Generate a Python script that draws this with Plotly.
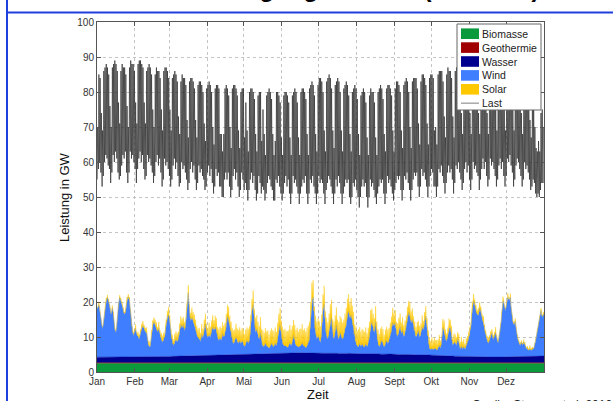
import plotly.graph_objects as go

# ---------------- data ----------------
month_labels = ["Jan", "Feb", "Mar", "Apr", "Mai", "Jun", "Jul", "Aug", "Sept", "Okt", "Nov", "Dez"]
month_start_day = [0, 31, 59, 90, 120, 151, 181, 212, 243, 273, 304, 334]

# daily peak / trough of the load (GW), Jan 1 .. Dec 31
load_max = [
    70, 85, 84, 74, 69,
    86, 87, 88, 87, 85, 76, 70,
    87, 88, 89, 88, 86, 77, 71,
    86, 88, 87, 87, 85, 76, 70,
    87, 89, 88, 88, 86, 77, 71,
    88, 89, 89, 88, 87, 77, 71,
    86, 87, 88, 87, 85, 75, 70,
    85, 87, 86, 86, 84, 75, 69,
    86, 87, 87, 86, 84, 75, 69,
    84, 85, 86, 85, 83, 73, 68,
    83, 85, 84, 84, 82, 72, 67,
    83, 84, 84, 83, 81, 72, 67,
    82, 83, 83, 82, 80, 71, 66,
    81, 82, 83, 82, 80, 70, 65,
    81, 82, 82, 81, 68, 68, 63,
    68, 81, 82, 81, 79, 70, 64,
    81, 82, 82, 81, 79, 69, 64,
    80, 81, 81, 67, 77, 69, 63,
    80, 81, 81, 80, 78, 68, 63,
    79, 80, 80, 66, 75, 68, 62,
    79, 80, 81, 80, 78, 68, 62,
    66, 80, 80, 79, 77, 67, 62,
    79, 80, 80, 79, 77, 67, 62,
    79, 80, 81, 80, 77, 67, 62,
    80, 81, 81, 80, 78, 68, 62,
    81, 82, 83, 82, 79, 68, 63,
    82, 84, 84, 83, 80, 69, 63,
    83, 84, 85, 84, 81, 69, 64,
    82, 83, 84, 83, 80, 69, 63,
    81, 82, 83, 82, 79, 68, 63,
    80, 81, 82, 81, 78, 68, 62,
    79, 80, 81, 80, 77, 67, 62,
    79, 81, 80, 80, 77, 67, 62,
    80, 81, 82, 81, 78, 68, 63,
    81, 82, 82, 81, 79, 69, 63,
    81, 83, 83, 82, 80, 69, 64,
    82, 83, 84, 83, 80, 70, 64,
    83, 84, 84, 84, 81, 71, 65,
    83, 85, 85, 84, 82, 71, 65,
    84, 85, 85, 84, 69, 70, 65,
    85, 86, 86, 86, 83, 73, 67,
    85, 87, 86, 86, 84, 73, 67,
    86, 87, 88, 87, 84, 74, 68,
    85, 86, 87, 86, 84, 74, 68,
    86, 87, 87, 86, 84, 74, 68,
    85, 86, 87, 86, 84, 74, 68,
    86, 87, 88, 87, 85, 75, 69,
    85, 86, 87, 86, 84, 75, 69,
    86, 87, 87, 87, 85, 75, 69,
    85, 86, 86, 86, 84, 74, 68,
    84, 85, 85, 84, 82, 72, 67,
    80, 78, 70, 64, 63, 66, 63,
    74, 75, 70,
]
load_min = [
    55, 58, 60, 57, 53,
    56, 60, 62, 61, 59, 58, 54,
    57, 62, 60, 63, 61, 57, 55,
    56, 59, 62, 61, 63, 57, 54,
    57, 63, 61, 62, 60, 58, 54,
    58, 61, 63, 60, 62, 58, 55,
    56, 62, 60, 61, 59, 57, 54,
    56, 60, 62, 59, 61, 57, 53,
    55, 61, 59, 60, 58, 56, 53,
    55, 59, 61, 58, 60, 56, 53,
    54, 60, 58, 59, 57, 55, 52,
    54, 58, 60, 57, 59, 55, 52,
    54, 59, 57, 58, 56, 55, 52,
    53, 57, 59, 56, 58, 54, 51,
    53, 58, 56, 57, 53, 53, 50,
    50, 55, 57, 55, 57, 53, 50,
    52, 56, 58, 55, 57, 53, 50,
    52, 57, 55, 52, 54, 52, 49,
    52, 55, 57, 54, 56, 52, 49,
    51, 56, 54, 51, 53, 52, 49,
    51, 54, 56, 55, 53, 52, 49,
    49, 55, 54, 56, 53, 51, 49,
    51, 54, 56, 53, 55, 51, 48,
    51, 56, 54, 55, 53, 51, 48,
    51, 53, 55, 54, 56, 51, 48,
    51, 55, 54, 56, 53, 51, 48,
    51, 56, 54, 55, 54, 51, 48,
    52, 54, 56, 55, 53, 51, 48,
    51, 55, 53, 56, 54, 51, 48,
    51, 53, 55, 54, 55, 50, 48,
    50, 54, 53, 55, 52, 50, 47,
    50, 53, 55, 53, 54, 50, 47,
    50, 55, 53, 54, 52, 50, 48,
    51, 53, 55, 54, 55, 51, 48,
    51, 56, 54, 55, 53, 51, 49,
    52, 54, 56, 55, 56, 52, 49,
    52, 56, 55, 57, 54, 52, 49,
    52, 55, 57, 56, 57, 53, 50,
    53, 58, 56, 57, 55, 53, 50,
    53, 56, 58, 57, 53, 53, 50,
    53, 58, 57, 59, 56, 54, 51,
    54, 57, 59, 57, 58, 55, 51,
    54, 59, 58, 60, 57, 55, 52,
    54, 58, 60, 57, 59, 55, 52,
    55, 60, 58, 59, 57, 56, 52,
    55, 58, 61, 58, 60, 56, 53,
    55, 61, 59, 60, 58, 56, 53,
    55, 59, 61, 58, 60, 56, 53,
    56, 61, 60, 62, 59, 57, 53,
    55, 59, 61, 60, 58, 56, 53,
    55, 60, 58, 59, 57, 55, 52,
    53, 55, 54, 51, 50, 51, 50,
    52, 54, 54,
]

# daily wind feed-in (GW)
wind = [
    14, 15, 13, 10, 8,
    10, 13, 16, 17, 16, 14, 12,
    14, 12, 8, 7, 10, 15, 17,
    16, 15, 13, 12, 13, 16, 17,
    16, 12, 8, 6, 7, 8, 6,
    6, 5, 7, 8, 9, 8, 7,
    7, 4, 3, 3, 6, 9, 10,
    9, 8, 7, 8, 6, 5, 4,
    5, 6, 9, 11, 12, 10, 6,
    4, 3, 4, 5, 4, 5, 7,
    9, 8, 9, 7, 9, 13, 18,
    12, 10, 11, 10, 9, 8, 6,
    5, 5, 4, 6, 5, 7, 9,
    6, 5, 6, 5, 7, 8, 7,
    8, 7, 5, 4, 5, 4, 6,
    5, 6, 8, 11, 10, 8, 6,
    4, 3, 4, 5, 4, 3, 4,
    3, 4, 3, 2, 3, 4, 3,
    4, 7, 12, 14, 9, 6, 7,
    5, 4, 6, 3, 2, 2, 3,
    2, 2, 1.5, 2, 3, 2, 2,
    3, 2, 4, 7, 8, 5, 3,
    2, 2, 2, 1.5, 2, 3, 2,
    3, 5, 3, 2, 2, 1.5, 2,
    2, 3, 2, 2, 1.5, 2, 3,
    4, 10, 15, 16, 8, 6, 4,
    5, 4, 3, 6, 12, 14, 7,
    5, 4, 6, 9, 10, 5, 4,
    6, 8, 5, 4, 6, 5, 4,
    5, 7, 8, 11, 12, 10, 11,
    9, 7, 4, 3, 2, 2, 3,
    2, 3, 2, 2, 3, 2, 3,
    5, 8, 9, 7, 6, 9, 5,
    3, 2, 3, 4, 3, 2, 3,
    4, 3, 4, 5, 7, 9, 8,
    9, 6, 5, 7, 8, 6, 7,
    5, 6, 8, 10, 12, 11, 9,
    10, 8, 6, 5, 6, 7, 5,
    6, 8, 7, 9, 11, 7, 4,
    2, 1.5, 2, 1.5, 2, 2, 1.5,
    2, 3, 2, 4, 8, 7, 5,
    4, 6, 8, 8, 6, 3, 4,
    4, 3, 5, 4, 2, 3, 2,
    3, 2, 3, 4, 5, 7, 9,
    14, 16, 15, 13, 12, 12, 14,
    13, 11, 10, 8, 6, 5, 4,
    5, 6, 7, 5, 6, 7, 5,
    4, 6, 8, 12, 16, 15, 13,
    15, 17, 16, 17, 12, 10, 9,
    10, 7, 5, 4, 3, 4, 3,
    4, 3, 2, 2, 1.5, 2, 1.5,
    2, 2, 3, 5, 7, 9, 11,
    13, 11, 12,
]

# daily midday solar peak (GW)
solar = [
    0.5, 0.8, 0.6, 0.4, 0.7,
    0.6, 0.5, 0.9, 0.7, 0.4, 0.8, 0.6,
    0.7, 0.9, 0.5, 0.8, 1.0, 0.6, 0.7,
    0.9, 0.6, 1.1, 0.8, 0.7, 1.0, 0.8,
    1.0, 1.2, 0.8, 1.1, 0.9, 1.3, 1.0,
    1.2, 1.4, 1.0, 1.5, 1.3, 1.1, 1.4,
    1.5, 1.2, 1.6, 1.3, 1.7, 1.4, 1.2,
    1.6, 1.8, 1.4, 1.9, 1.5, 1.7, 2.0,
    1.8, 2.1, 1.6, 2.0, 2.2, 1.7, 1.9,
    2.2, 1.9, 2.4, 2.1, 2.5, 2.0, 2.3,
    2.4, 2.6, 2.1, 2.7, 2.3, 2.5, 2.2,
    2.6, 2.3, 2.8, 2.5, 2.9, 2.4, 2.7,
    2.8, 3.0, 2.5, 3.1, 2.7, 3.2, 2.9,
    3.0, 2.7, 3.3, 3.1, 2.8, 3.4, 3.0,
    3.2, 3.5, 2.9, 3.4, 3.1, 3.6, 3.3,
    3.4, 3.1, 3.7, 3.3, 3.8, 3.2, 3.5,
    3.6, 3.9, 3.3, 3.8, 3.5, 4.0, 3.7,
    3.8, 3.5, 4.1, 3.7, 4.0, 3.6, 4.2,
    3.9, 4.2, 3.6, 4.1, 3.8, 4.3, 4.0,
    4.1, 3.8, 4.4, 4.0, 4.5, 3.9, 4.2,
    4.3, 4.6, 4.0, 4.5, 4.2, 4.7, 4.4,
    4.4, 4.1, 4.7, 4.3, 4.8, 4.2, 4.5,
    4.6, 4.9, 4.3, 4.8, 4.5, 5.0, 4.7,
    4.7, 4.4, 5.0, 4.6, 5.1, 4.5, 4.8,
    4.9, 5.2, 4.6, 5.0, 4.7, 5.3, 4.9,
    5.0, 4.6, 5.2, 4.8, 5.3, 4.7, 5.1,
    4.9, 5.2, 4.7, 5.1, 4.8, 5.3, 5.0,
    5.1, 4.8, 5.3, 4.9, 5.2, 4.6, 5.0,
    4.8, 5.1, 4.6, 5.0, 4.7, 5.2, 4.9,
    4.7, 4.4, 5.0, 4.6, 4.9, 4.3, 4.8,
    4.6, 4.9, 4.3, 4.8, 4.5, 5.0, 4.6,
    4.4, 4.1, 4.7, 4.3, 4.6, 4.0, 4.5,
    4.2, 4.5, 3.9, 4.4, 4.1, 4.6, 4.2,
    4.0, 3.7, 4.3, 3.9, 4.2, 3.6, 4.1,
    3.8, 4.1, 3.5, 4.0, 3.7, 4.2, 3.8,
    3.6, 3.3, 3.9, 3.5, 3.8, 3.2, 3.7,
    3.4, 3.7, 3.1, 3.6, 3.3, 3.8, 3.4,
    3.2, 2.9, 3.5, 3.1, 3.4, 2.8, 3.3,
    3.0, 3.3, 2.7, 3.2, 2.9, 3.4, 3.0,
    2.8, 2.5, 3.1, 2.7, 3.0, 2.4, 2.9,
    2.6, 2.9, 2.3, 2.8, 2.5, 3.0, 2.6,
    2.4, 2.1, 2.7, 2.3, 2.6, 2.0, 2.5,
    2.2, 2.5, 1.9, 2.4, 2.1, 2.6, 2.2,
    2.0, 1.7, 2.3, 1.9, 2.2, 1.6, 2.1,
    1.8, 2.0, 1.5, 1.9, 1.6, 2.1, 1.7,
    1.5, 1.3, 1.8, 1.4, 1.7, 1.2, 1.6,
    1.3, 1.5, 1.1, 1.4, 1.2, 1.6, 1.3,
    1.1, 0.9, 1.3, 1.0, 1.2, 0.8, 1.1,
    0.9, 1.1, 0.7, 1.0, 0.8, 1.2, 0.9,
    0.8, 0.6, 1.0, 0.7, 0.9, 0.5, 0.8,
    0.7, 0.9, 0.5, 0.8, 0.6, 0.9, 0.7,
    0.6, 0.4, 0.8, 0.5, 0.7, 0.6, 0.5,
    0.7, 0.5, 0.6,
]

# weekly hydro (GW), constant biomass and geothermal (GW)
wasser_weekly = [
    1.6, 1.7, 1.6, 1.8,
    1.7, 1.6, 1.7, 1.8,
    1.8, 1.9, 2.0, 1.9, 2.1,
    2.2, 2.3, 2.2, 2.4,
    2.5, 2.6, 2.7, 2.6, 2.8,
    2.8, 2.9, 2.7, 2.8,
    2.7, 2.8, 2.6, 2.7,
    2.6, 2.5, 2.6, 2.4, 2.5,
    2.3, 2.4, 2.2, 2.3,
    2.1, 2.0, 1.9, 1.8,
    1.7, 1.6, 1.5, 1.6, 1.7,
    1.8, 1.9, 2.0, 1.9,
]
biomasse = 2.5
geothermie = 0.15

# ---------------- build traces ----------------
H = 24
days = range(len(load_max))
load_x, load_y = [], []
for d in days:
    load_x += [H * d + 4, H * d + 13]
    load_y += [load_min[d], load_max[d]]

wind_x = [H * d + 12 for d in days]
solar_x, solar_y = [], []
for d in days:
    solar_x += [H * d, H * d + 12]
    solar_y += [0, solar[d]]
solar_x.append(8760)
solar_y.append(0)
wasser_x = [84 + 168 * k for k in range(len(wasser_weekly))]

colors = {
    "Biomasse": "#0a9a3c",
    "Geothermie": "#a00000",
    "Wasser": "#00008f",
    "Wind": "#3f7fff",
    "Solar": "#ffc800",
    "Last": "#a8a8a8",
}

fig = go.Figure()
stack_series = [
    ("Biomasse", [0, 8760], [biomasse, biomasse]),
    ("Geothermie", [0, 8760], [geothermie, geothermie]),
    ("Wasser", wasser_x, wasser_weekly),
    ("Wind", wind_x, wind),
    ("Solar", solar_x, solar_y),
]
for name, xs, ys in stack_series:
    fig.add_trace(go.Scatter(
        x=xs, y=ys, name=name, mode="lines",
        stackgroup="re", stackgaps="interpolate",
        line=dict(width=0.4, color=colors[name]),
        fillcolor=colors[name],
        hoverinfo="skip",
    ))

fig.add_trace(go.Scatter(
    x=load_x, y=load_y, name="Last", mode="lines",
    line=dict(width=0.7, color="#2e2e2e"),
    hoverinfo="skip",
))

# ---------------- layout ----------------
L, R, T, B = 97, 544, 22, 372
W, Hh = 613, 401


def px(xp):
    return (xp - L) / (R - L)


def py(yp):
    return (B - yp) / (B - T)


FONT = "Liberation Sans, Arial, sans-serif"
axis_common = dict(
    showline=True, linecolor="#555", linewidth=1, mirror="ticks",
    ticks="inside", ticklen=4, tickcolor="#555",
    showgrid=True, gridcolor="#c4c4c4", griddash="dot", gridwidth=1,
    zeroline=False,
    tickfont=dict(family=FONT, size=10, color="#333"),
)

fig.update_layout(
    width=W, height=Hh,
    margin=dict(l=L, r=W - R, t=T, b=Hh - B, pad=0),
    paper_bgcolor="white", plot_bgcolor="white",
    showlegend=False,
    xaxis=dict(range=[0, 8760], tickvals=[H * d for d in month_start_day],
               ticktext=month_labels, **axis_common),
    yaxis=dict(range=[0, 100], dtick=10, **axis_common),
)

shapes = []
annotations = []

# frame of the slide
blue = "#1f3fdc"
shapes.append(dict(type="line", xref="paper", yref="paper",
                   x0=px(7), x1=px(620), y0=py(12.5), y1=py(12.5),
                   line=dict(color=blue, width=2)))
shapes.append(dict(type="line", xref="paper", yref="paper",
                   x0=px(7), x1=px(7), y0=py(-5), y1=py(410),
                   line=dict(color=blue, width=2)))

# title (cut off at the top of the slide) and source
annotations.append(dict(
    text="<b>Simulierte Stromversorgung für 2050 (Szenario)</b>",
    xref="paper", yref="paper", x=px(541), y=py(4), xanchor="right", yanchor="bottom",
    showarrow=False, font=dict(family=FONT, size=24, color="black")))
annotations.append(dict(
    text="Quelle: Sterner et al. 2010",
    xref="paper", yref="paper", x=px(470), y=py(396), xanchor="left", yanchor="top",
    showarrow=False, font=dict(family=FONT, size=12, color="#222")))

# axis titles
annotations.append(dict(
    text="Leistung in GW", xref="paper", yref="paper", x=px(64), y=py(197),
    xanchor="center", yanchor="middle", textangle=-90, showarrow=False,
    font=dict(family=FONT, size=13, color="#111")))
annotations.append(dict(
    text="Zeit", xref="paper", yref="paper", x=px(318), y=py(394),
    xanchor="center", yanchor="middle", showarrow=False,
    font=dict(family=FONT, size=13, color="#111")))

# legend box
shapes.append(dict(type="rect", xref="paper", yref="paper", layer="above",
                   x0=px(457), x1=px(541), y0=py(24), y1=py(110),
                   fillcolor="white", line=dict(color="#666", width=1)))
legend_names = ["Biomasse", "Geothermie", "Wasser", "Wind", "Solar", "Last"]
for i, name in enumerate(legend_names):
    yc = 33.7 + 13.9 * i
    if name == "Last":
        shapes.append(dict(type="line", xref="paper", yref="paper", layer="above",
                           x0=px(461), x1=px(479), y0=py(yc), y1=py(yc),
                           line=dict(color=colors[name], width=1.5)))
    else:
        shapes.append(dict(type="rect", xref="paper", yref="paper", layer="above",
                           x0=px(461), x1=px(479), y0=py(yc - 5.3), y1=py(yc + 5.3),
                           fillcolor=colors[name], line=dict(width=0)))
    annotations.append(dict(
        text=name, xref="paper", yref="paper", x=px(480), y=py(yc),
        xanchor="left", yanchor="middle", showarrow=False,
        font=dict(family=FONT, size=10.5, color="#222")))

fig.update_layout(shapes=shapes, annotations=annotations)

fig.write_html("out.html", config={"displayModeBar": False},
               post_script="document.body.style.margin='0';")
